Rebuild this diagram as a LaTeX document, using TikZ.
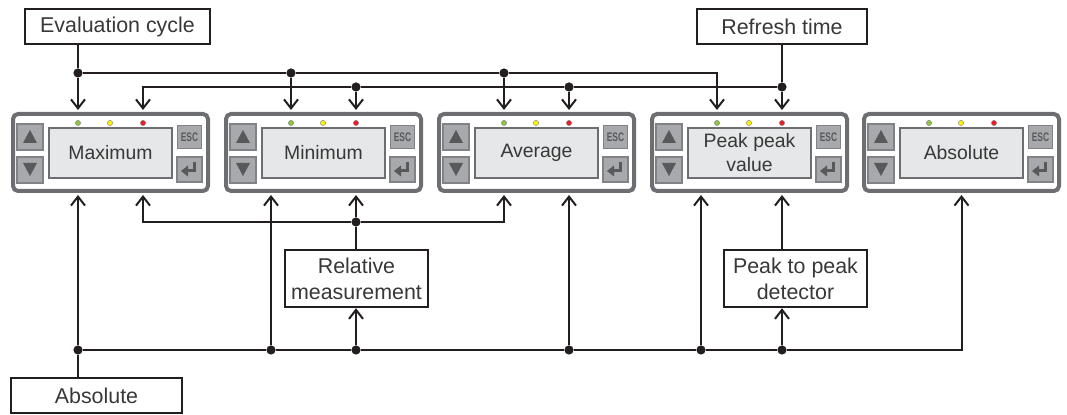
\documentclass[tikz,border=0pt]{standalone}
\usepackage{fontspec}
\usepackage{graphicx}
\setmainfont{Liberation Sans}
\usetikzlibrary{arrows.meta}
\definecolor{ink}{HTML}{231F20}
\definecolor{type}{HTML}{383838}
\definecolor{frame}{HTML}{6D6E71}
\definecolor{keyfill}{HTML}{A7A9AC}
\definecolor{keyline}{HTML}{808285}
\definecolor{markgray}{HTML}{58595B}
\definecolor{screenfill}{HTML}{E6E7E8}
\definecolor{ledgreen}{HTML}{8DC63F}
\definecolor{ledyellow}{HTML}{FFF200}
\definecolor{ledred}{HTML}{ED1C24}
\newcommand{\labelsize}{\fontsize{10.7}{13}\selectfont}
\newcommand{\screensize}{\fontsize{9.7}{12}\selectfont}
\newcommand{\escmark}{\scalebox{.68}[1]{\fontsize{6.2}{6.2}\selectfont\bfseries ESC}}
\tikzset{
 every node/.append style={text=type,align=center},
 tag/.style={draw=ink,fill=white,line width=.65pt,inner sep=0pt,font=\labelsize},
 panel/.style={draw=frame,fill=white,line width=2pt,rounded corners=2.5pt,minimum width=97.5pt,minimum height=38.5pt,inner sep=0pt},
 screen/.style={draw=frame,fill=screenfill,line width=.7pt,minimum width=61.5pt,minimum height=25pt,inner sep=0pt,font=\screensize},
 key/.style={draw=keyline,fill=keyfill,line width=.7pt},
 esckey/.style={key,minimum width=12pt,minimum height=11.5pt,inner sep=0pt,text=markgray},
 glyph/.style={fill=markgray},
 led/.style={draw=ink!60,line width=.2pt},
 wire/.style={draw=ink,line width=1pt},
 feed/.style={wire,-{Straight Barb[length=4.5pt,width=7pt]},shorten >=1pt},
 joint/.style={circle,fill=ink,inner sep=0pt,minimum size=4.6pt},
}
\newcommand{\devicepanel}[3]{
 \node[panel] (#1) at (#2+99.5,152.5) {};
 \draw[key] (#2+6,124) rectangle (#2+32,150);
 \fill[glyph] (#2+12,143) -- (#2+26,143) -- (#2+19,130) -- cycle;
 \draw[key] (#2+6,157) rectangle (#2+32,183);
 \fill[glyph] (#2+12,163) -- (#2+26,163) -- (#2+19,176) -- cycle;
 \node[screen] (#1-d) at (#2+99.5,153) {#3};
 \node[esckey] (#1-esc) at (#2+178.5,137) {\escmark};
 \draw[key] (#2+166,157) rectangle (#2+191,182);
 \draw[markgray,line width=1.5pt] (#2+183,162) -- (#2+183,171) -- (#2+176,171);
 \fill[glyph] (#2+177,165.5) -- (#2+177,176.5) -- (#2+170,171) -- cycle;
 \filldraw[led,fill=ledgreen] (#2+67,123) circle (1.3pt);
 \filldraw[led,fill=ledyellow] (#2+99,123) circle (1.3pt);
 \filldraw[led,fill=ledred] (#2+132,123) circle (1.3pt);
}
\begin{document}
\begin{tikzpicture}[x=0.5pt,y=-0.5pt]

\useasboundingbox (0,0) rectangle (1067,415);
\devicepanel{p1}{11}{Maximum}
\devicepanel{p2}{224}{Minimum}
\devicepanel{p3}{437}{Average}
\devicepanel{p4}{650}{Peak peak\\value}
\devicepanel{p5}{862}{Absolute}
\node[tag,minimum width=92.5pt,minimum height=17.5pt] (eval) at (117.5,26.5) {Evaluation cycle};
\node[tag,minimum width=85pt,minimum height=17.5pt] (refresh) at (782,26.5) {Refresh time};
\node[tag,minimum width=85.5pt,minimum height=17.5pt] (abs) at (96.5,395.5) {Absolute};
\node[tag,minimum width=71.5pt,minimum height=28.5pt] (rel) at (356.5,278.5) {Relative\\measurement};
\node[tag,minimum width=71.5pt,minimum height=28.5pt] (ptp) at (795.5,278.5) {Peak to peak\\detector};

\node[joint] (t1) at (78,73) {};
\node[joint] (t2) at (291,73) {};
\node[joint] (t3) at (504,73) {};
\coordinate (c1) at (717,73);
\draw[wire] (eval.south -| t1) -- (t1);
\draw[wire] (t1) -- (t2) -- (t3);
\draw[feed] (t1) -- (p1.north -| t1);
\draw[feed] (t2) -- (p2.north -| t2);
\draw[feed] (t3) -- (p3.north -| t3);
\draw[feed] (t3) -- (c1) -- (p4.north -| c1);

\coordinate (c2) at (143,87);
\node[joint] (t4) at (356,87) {};
\node[joint] (t5) at (569,87) {};
\node[joint] (t6) at (782,87) {};
\draw[wire] (refresh) -- (t6);
\draw[wire] (t4) -- (t5) -- (t6);
\draw[feed] (t4) -- (c2) -- (p1.north -| c2);
\draw[feed] (t4) -- (p2.north -| t4);
\draw[feed] (t5) -- (p3.north -| t5);
\draw[feed] (t6) -- (p4.north -| t6);

\coordinate (c3) at (143,222);
\coordinate (c4) at (504,222);
\node[joint] (b1) at (356,222) {};
\draw[feed] (b1) -- (c3) -- (p1.south -| c3);
\draw[feed] (b1) -- (c4) -- (p3.south -| c4);
\draw[feed] (b1) -- (p2.south -| b1);
\draw[wire] (b1) -- (rel.north -| b1);

\node[joint] (a1) at (78,350) {};
\node[joint] (a2) at (271,350) {};
\node[joint] (a3) at (356,350) {};
\node[joint] (a4) at (569,350) {};
\node[joint] (a5) at (701,350) {};
\node[joint] (a6) at (782,350) {};
\coordinate (c5) at (961.5,350);
\draw[wire] (a1) -- (a2) -- (a3) -- (a4) -- (a5) -- (a6);
\draw[feed] (a6) -- (c5) -- (p5.south -| c5);
\draw[wire] (abs.north -| a1) -- (a1);
\draw[feed] (a1) -- (p1.south -| a1);
\draw[feed] (a2) -- (p2.south -| a2);
\draw[feed,shorten >=.3pt] (a3) -- (rel.south -| a3);
\draw[feed] (a4) -- (p3.south -| a4);
\draw[feed] (a5) -- (p4.south -| a5);
\draw[feed,shorten >=.3pt] (a6) -- (ptp.south -| a6);
\draw[feed] (ptp.north -| a6) -- (p4.south -| a6);

\end{tikzpicture}
\end{document}
